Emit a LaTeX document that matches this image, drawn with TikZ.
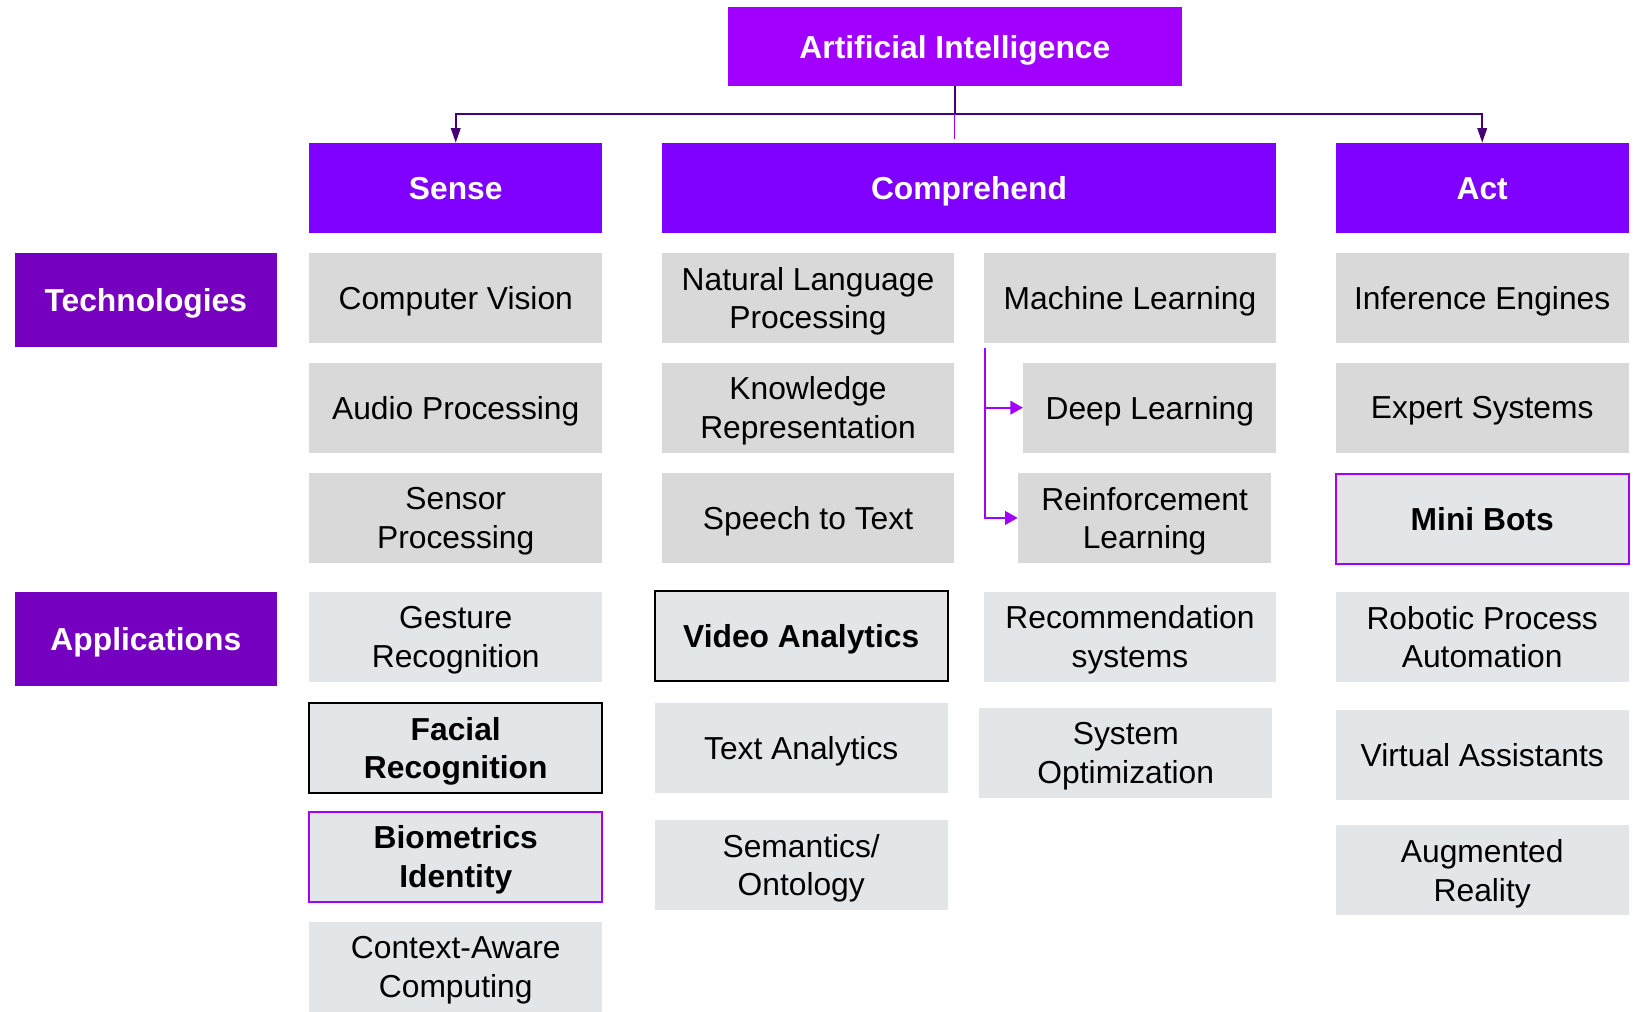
\documentclass[tikz,border=0pt]{standalone}
\usepackage{fontspec}
\setmainfont{Liberation Sans}
\usepackage{tikz}
\usetikzlibrary{arrows.meta}

\definecolor{aipurple}{HTML}{A100FF}
\definecolor{headpurple}{HTML}{7F00FF}
\definecolor{sidepurple}{HTML}{7500C0}
\definecolor{darkline}{HTML}{460073}
\definecolor{techgrey}{HTML}{D9D9D9}
\definecolor{appgrey}{HTML}{E3E6E9}

\tikzset{
	base/.style={rectangle, minimum width=140pt, minimum height=43pt, inner sep=0pt, text depth=0pt, align=center, font=\fontsize{15.2}{18.5}\selectfont},
	techbox/.style={base, fill=techgrey},
	appbox/.style={base, fill=appgrey},
	keybox/.style={appbox, draw=black, line width=1pt, font=\fontsize{15.2}{18.5}\selectfont\bfseries},
	markbox/.style={appbox, draw=aipurple, line width=1pt, font=\fontsize{15.2}{18.5}\selectfont\bfseries},
	headbox/.style={base, fill=headpurple, text=white, font=\fontsize{15.2}{18.5}\selectfont\bfseries},
	sidebox/.style={headbox, fill=sidepurple, minimum width=125.5pt, minimum height=45pt},
	treeline/.style={draw=darkline, line width=1pt, -{Triangle[length=7pt, width=4.5pt]}},
	mlline/.style={draw=aipurple, line width=0.9pt, -{Triangle[length=6pt, width=6.5pt]}}
}

\begin{document}
\begin{tikzpicture}[x=0.5pt, y=-0.5pt]
				\useasboundingbox (0,0) rectangle (1568,968);

				\node (ai) [headbox, fill=aipurple, minimum width=217.5pt, minimum height=37.5pt] at (913.5,44.5) {Artificial Intelligence};
				\node (sense) [headbox] at (436,180) {Sense};
				\node (comp) [headbox, minimum width=294pt] at (927,180) {Comprehend};
				\node (act) [headbox] at (1418,180) {Act};

				\node (tech) [sidebox] at (139.5,287) {Technologies};
				\node (apps) [sidebox] at (139.5,611) {Applications};

				% Sense
				\node (cv) [techbox] at (436,285) {Computer Vision};
				\node (audio) [techbox] at (436,390) {Audio Processing};
				\node (sensor) [techbox] at (436,495.5) {Sensor\\Processing};
				\node (gesture) [appbox] at (436,609) {Gesture\\Recognition};
				\node (facial) [keybox] at (436,715.5) {Facial\\Recognition};
				\node (biom) [markbox] at (436,819.5) {Biometrics\\Identity};
				\node (context) [appbox] at (436,925) {Context-Aware\\Computing};

				% Comprehend
				\node (nlp) [techbox] at (773,285) {Natural Language\\Processing};
				\node (know) [techbox] at (773,390) {Knowledge\\Representation};
				\node (speech) [techbox] at (773,495.5) {Speech to Text};
				\node (video) [keybox] at (766.5,608.5) {Video Analytics};
				\node (text) [appbox] at (766.5,715.5) {Text Analytics};
				\node (seman) [appbox] at (766.5,827.5) {Semantics/\\Ontology};

				\node (ml) [techbox] at (1081,285) {Machine Learning};
				\node (deep) [techbox, minimum width=121pt] at (1100,390) {Deep Learning};
				\node (reinf) [techbox, minimum width=121pt] at (1095,495.5) {Reinforcement\\Learning};
				\node (recom) [appbox] at (1081,609) {Recommendation\\systems};
				\node (sysopt) [appbox] at (1077,720) {System\\Optimization};

				% Act
				\node (infer) [techbox] at (1418,285) {Inference Engines};
				\node (expert) [techbox] at (1418,390) {Expert Systems};
				\node (minibots) [markbox] at (1418,496.5) {Mini Bots};
				\node (rpa) [appbox] at (1418,609.5) {Robotic Process\\Automation};
				\node (virtual) [appbox] at (1418,722.5) {Virtual Assistants};
				\node (ar) [appbox] at (1418,832.5) {Augmented\\Reality};

				% Arrows
				\coordinate (split) at (913.5,109);
				\coordinate (mlfoot) at (942,333);
				\draw[draw=darkline, line width=1pt] (ai) -- (split);
				\draw[treeline] (split) -| (sense);
				\draw[treeline] (split) -| (act);
				\draw[draw=aipurple, line width=0.4pt, shorten >=2pt] (split) -- (split |- comp.north);
				\draw[mlline] (mlfoot) |- (deep);
				\draw[mlline] (mlfoot) |- (reinf);
		\end{tikzpicture}
\end{document}
